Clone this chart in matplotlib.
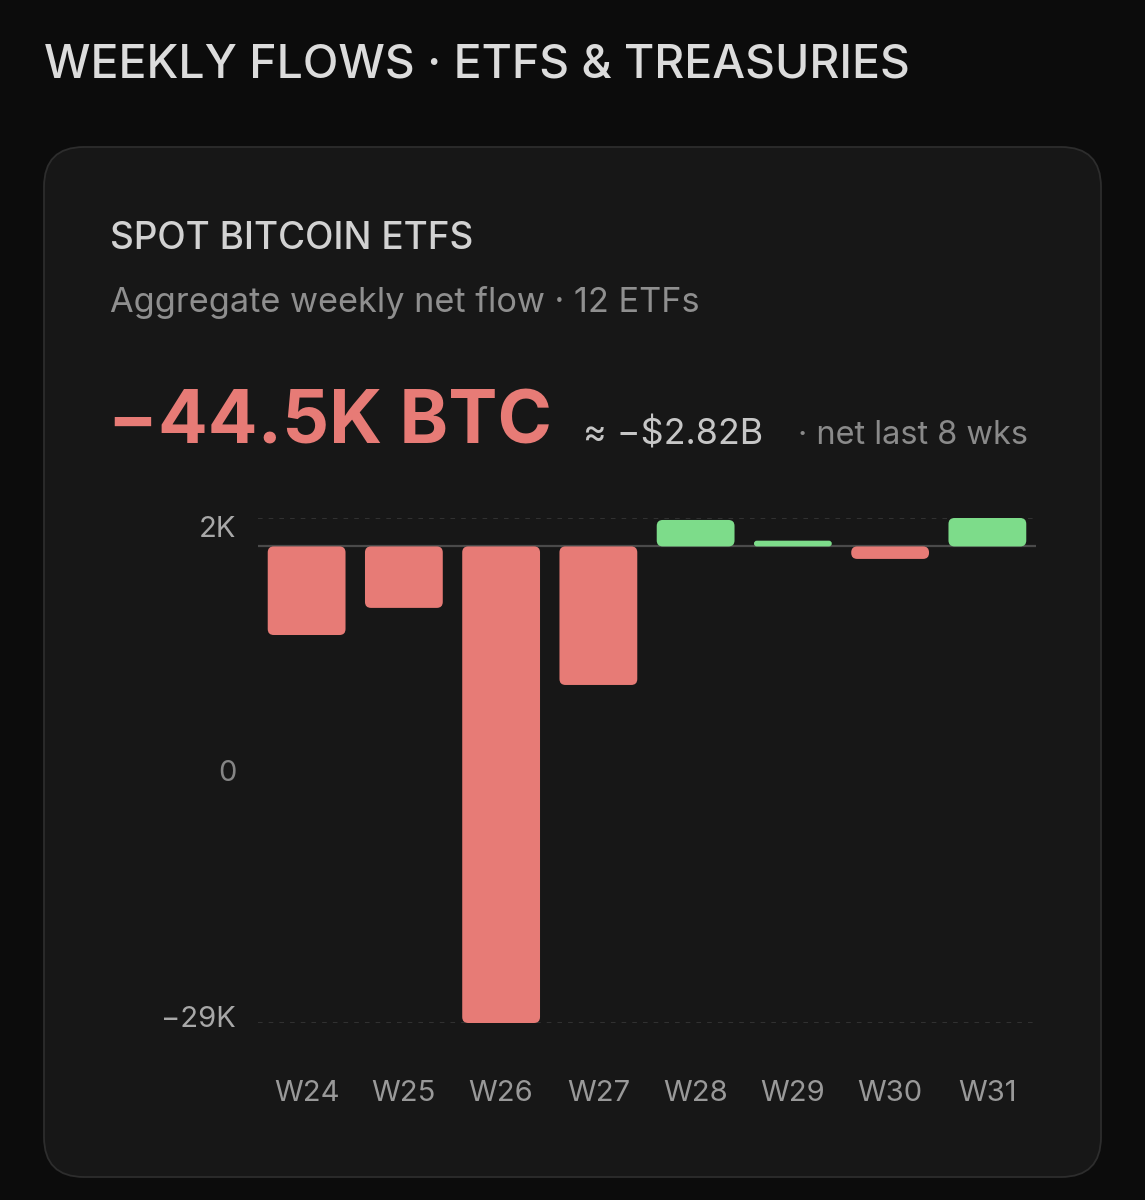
import matplotlib
matplotlib.use("Agg")
import matplotlib.pyplot as plt
from matplotlib.patches import FancyBboxPatch
from matplotlib.transforms import blended_transform_factory, offset_copy

# weekly aggregate net flow of the 12 spot ETFs, thousand BTC
weeks = ["W24", "W25", "W26", "W27", "W28", "W29", "W30", "W31"]
flows_k = [-5.39, -3.74, -29.0, -8.43, 1.61, 0.35, -0.76, 1.73]
axis_labels = ["2K", "0", "\u221229K"]

page_title = "WEEKLY FLOWS \u00b7 ETFS & TREASURIES"
card_title = "SPOT BITCOIN ETFS"
card_sub = "Aggregate weekly net flow \u00b7 12 ETFs"
headline = "\u221244.5K BTC"
usd_note = "\u2248 \u2212$2.82B"
period_note = "\u00b7 net last 8 wks"

BG = "#0c0c0c"
CARD = "#171717"
RED = "#e77b76"
GREEN = "#7ddc8a"

plt.rcParams["font.family"] = ["Inter", "DejaVu Sans"]

W, H = 1145, 1200
fig = plt.figure(figsize=(W / 100, H / 100), dpi=100)
fig.patch.set_facecolor(BG)

# full-figure axes in pixel units for the card and the text
bg = fig.add_axes([0, 0, 1, 1])
bg.set_xlim(0, W)
bg.set_ylim(H, 0)
bg.axis("off")

bg.add_patch(FancyBboxPatch((44, 147), 1057, 1030,
                            boxstyle="round,pad=0,rounding_size=40",
                            fc=CARD, ec="#2d2d2d", lw=1.3))

bg.text(44, 77, page_title, fontsize=33.4, color="#dcdcdc", weight="medium",
        va="baseline")
bg.text(110, 249, card_title, fontsize=26.6, color="#d2d2d2", weight="medium",
        va="baseline")
bg.text(110, 312, card_sub, fontsize=24.7, color="#8f8f8f", va="baseline")
bg.text(108, 443, headline, fontsize=53, color=RED, weight="bold",
        va="baseline")
bg.text(583, 444, usd_note, fontsize=25.8, color="#c6c6c6", va="baseline")
bg.text(798, 444, period_note, fontsize=23.4, color="#8a8a8a", va="baseline")

# chart area
left, right, top, bottom = 258, 1036, 518, 1023
ax = fig.add_axes([left / W, 1 - bottom / H, (right - left) / W, (bottom - top) / H])
ax.set_facecolor("none")
ymin, ymax = min(flows_k), max(flows_k)
ax.set_xlim(-0.5, len(weeks) - 0.5)
ax.set_ylim(ymin, ymax)
for s in ax.spines.values():
    s.set_visible(False)

ax.axhline(ymax, color="#3a3a3a", lw=1.1, ls=(0, (3, 4)), zorder=1)
ax.axhline(ymin, color="#3a3a3a", lw=1.1, ls=(0, (3, 4)), zorder=1)
ax.axhline(0, color="#4a4a4a", lw=1.6, zorder=1)

colors = [GREEN if v >= 0 else RED for v in flows_k]
bars = ax.bar(range(len(weeks)), flows_k, width=0.8, color=colors)

# swap the plain bars for rounded ones of the same size
bb = ax.get_window_extent()
px_x = bb.width / (len(weeks))
px_y = bb.height / (ymax - ymin)
for b in list(bars):
    x0, y0 = b.get_x(), b.get_y()
    w, h = b.get_width(), b.get_height()
    if h < 0:
        y0, h = y0 + h, -h
    r_px = min(6, h * px_y / 2, w * px_x / 2)
    ax.add_patch(FancyBboxPatch((x0, y0), w, h,
                                boxstyle="round,pad=0,rounding_size=%f" % (r_px / px_x),
                                mutation_aspect=px_x / px_y,
                                fc=b.get_facecolor(), ec="none",
                                clip_on=False, zorder=3))
    b.remove()

ax.set_yticks([])
ax.set_xticks(range(len(weeks)), weeks)
ax.tick_params(axis="x", length=0, pad=41, labelsize=21, labelcolor="#999999")

trans = blended_transform_factory(ax.transAxes, ax.transData)
label_pos = [ymax, (ymax + ymin) / 2, ymin]
label_dy = [-8.5, -2, 2.5]
label_col = ["#a8a8a8", "#858585", "#a8a8a8"]
for lab, yv, dy, c in zip(axis_labels, label_pos, label_dy, label_col):
    ax.text(-0.028, yv, lab, transform=offset_copy(trans, fig=fig, y=dy, units="points"),
            ha="right", va="center", fontsize=21, color=c)

fig.savefig("out.png", dpi=100, facecolor=BG)
